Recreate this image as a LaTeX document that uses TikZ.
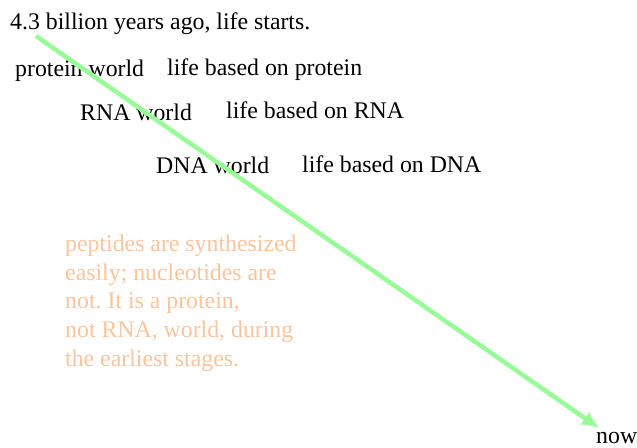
\documentclass[tikz,border=0pt]{standalone}
\usepackage{fontspec}
\setmainfont{Liberation Serif}
\usetikzlibrary{arrows.meta}
\frenchspacing
\definecolor{LifeGreen}{HTML}{98FB98}
\definecolor{NoteOrange}{HTML}{FCC49C}
\tikzset{
  label text/.style={anchor=base west,inner sep=0pt,font=\fontsize{23.8}{28.6}\selectfont},
  note text/.style={label text,align=left,text=NoteOrange}
}
\begin{document}
\begin{tikzpicture}[x=1pt,y=-1pt]
\path[use as bounding box] (0,0) rectangle (637,447);
\node[label text] (start) at (10,29) {4.3 billion years ago, life starts.};
\node[label text] (protein) at (15,76) {protein world};
\node[label text] (proteindesc) at (167,75) {life based on protein};
\node[label text] (rna) at (80,120) {RNA world};
\node[label text] (rnadesc) at (226,118) {life based on RNA};
\node[label text] (dna) at (156,173) {DNA world};
\node[label text] (dnadesc) at (302,172) {life based on DNA};
% base of a multi-line node is its last line
\node[note text] (note) at (65,366) {peptides are synthesized\\easily; nucleotides are\\not. It is a protein,\\not RNA, world, during\\the earliest stages.};
\node[label text] (now) at (596,443) {now};
% time line
\coordinate (tbegin) at (36,36);
\coordinate (tend) at (599,428);
\draw[LifeGreen,line width=4.5pt,-{Latex[length=17pt,width=16pt]}] (tbegin) -- (tend);
\end{tikzpicture}
\end{document}
